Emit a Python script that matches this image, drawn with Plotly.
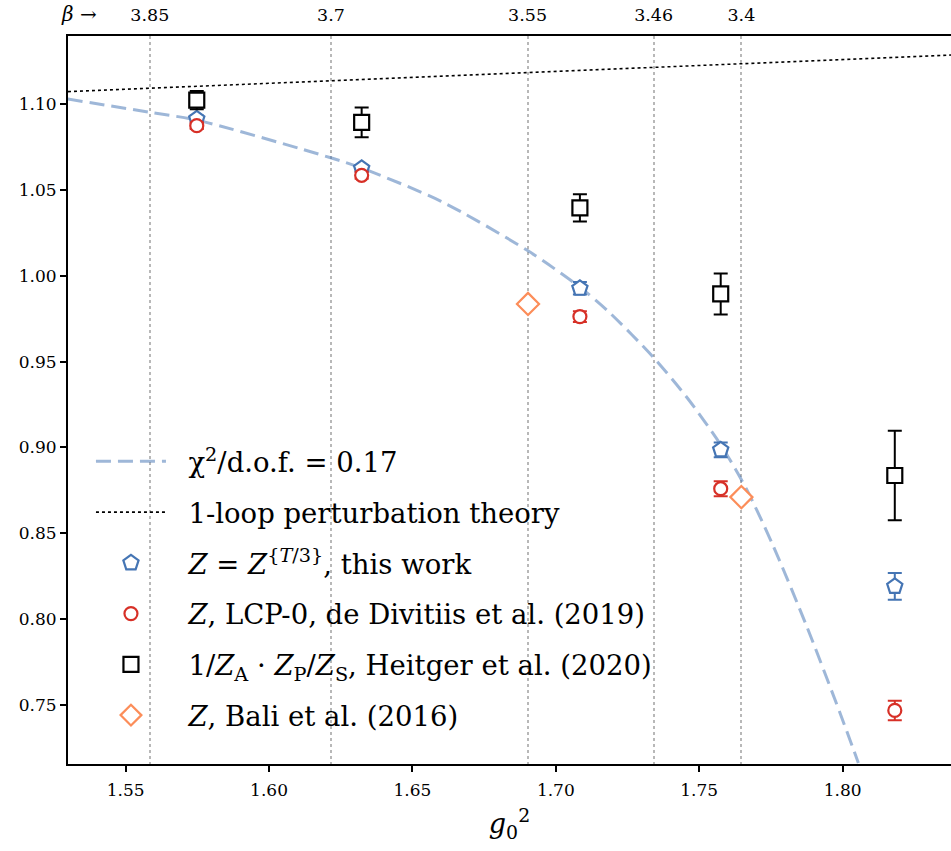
import plotly.graph_objects as go

# lattice couplings of the ensembles (g0^2 = 6/beta)
g2_ens = [1.5748, 1.6323, 1.7084, 1.7575, 1.8182]

# Z = Z^{T/3}, this work
z_this = [1.0913, 1.0625, 0.9927, 0.8986, 0.8191]
dz_this = [0.0020, 0.0020, 0.0036, 0.0043, 0.0078]

# LCP-0, de Divitiis et al. (2019)
z_lcp0 = [1.0874, 1.0585, 0.9762, 0.8760, 0.7469]
dz_lcp0 = [0.0020, 0.0020, 0.0032, 0.0044, 0.0057]

# 1/Z_A * Z_P/Z_S, Heitger et al. (2020)
z_heit = [1.1023, 1.0893, 1.0395, 0.9894, 0.8837]
dz_heit = [0.0053, 0.0086, 0.0079, 0.0119, 0.0260]

# Bali et al. (2016)
g2_bali = [1.6903, 1.7647]
z_bali = [0.9836, 0.8711]
dz_bali = [0.0020, 0.0020]

# global fit curve (chi^2/d.o.f. = 0.17)
fit_g2 = [1.5298, 1.5583, 1.5751, 1.6215, 1.6320, 1.6600, 1.6903, 1.7084,
          1.7182, 1.7339, 1.7460, 1.7579, 1.7666, 1.7759, 1.7875, 1.7991, 1.8055]
fit_z = [1.1029, 1.0952, 1.0905, 1.0687, 1.0629, 1.0433, 1.0145, 0.9933,
         0.9794, 0.9527, 0.9285, 0.9005, 0.8754, 0.8423, 0.7958, 0.7454, 0.7163]

# 1-loop perturbation theory (straight line in g0^2)
pt_g2 = [1.5299, 1.8378]
pt_z = [1.1072, 1.1285]

# beta values shown on the upper axis
betas = [3.85, 3.7, 3.55, 3.46, 3.4]
beta_labels = ["3.85", "3.7", "3.55", "3.46", "3.4"]

XR = [1.5299, 1.8378]
YR = [0.7157, 1.1396]

BLUE = "#4575b4"
RED = "#d73027"
ORANGE = "#fc8d59"
FIT = "rgba(69,117,180,0.52)"
SERIF = "DejaVu Serif, Liberation Serif, serif"
PAD = "&nbsp;&nbsp;"

fig = go.Figure()

fig.add_trace(go.Scatter(
    x=fit_g2, y=fit_z, mode="lines",
    line=dict(color=FIT, width=3, dash="15px,7px", shape="spline", smoothing=0.8),
    name=PAD + "χ<sup>2</sup>/d.o.f. = 0.17", legendgroup="a"))

fig.add_trace(go.Scatter(
    x=pt_g2, y=pt_z, mode="lines", xaxis="x2", line=dict(color="black", width=1.6, dash="dot"),
    name=PAD + "1-loop perturbation theory", legendgroup="b"))


def data_trace(x, y, dy, color, symbol, size, name, group):
    return go.Scatter(
        x=x, y=y, mode="markers", name=PAD + name, legendgroup=group,
        error_y=dict(type="data", array=dy, visible=True, color=color, thickness=2, width=7),
        marker=dict(symbol=symbol, size=size, color="white", line=dict(color=color, width=2.2)))


fig.add_trace(data_trace(g2_ens, z_this, dz_this, BLUE, "pentagon", 16,
                         "<i>Z</i> = <i>Z</i><sup>{<i>T</i>/3}</sup>, this work", "c"))
fig.add_trace(data_trace(g2_ens, z_lcp0, dz_lcp0, RED, "circle", 13,
                         "<i>Z</i>, LCP-0, de Divitiis et al. (2019)", "d"))
fig.add_trace(data_trace(g2_ens, z_heit, dz_heit, "black", "square", 15,
                         "1/<i>Z</i><sub>A</sub> · <i>Z</i><sub>P</sub>/<i>Z</i><sub>S</sub>, Heitger et al. (2020)", "e"))
fig.add_trace(data_trace(g2_bali, z_bali, dz_bali, ORANGE, "diamond", 17,
                         "<i>Z</i>, Bali et al. (2016)", "f"))

fig.update_layout(
    width=951, height=851,
    margin=dict(l=68, r=0, t=36, b=87),
    paper_bgcolor="white", plot_bgcolor="white",
    font=dict(family=SERIF, color="black", size=16),
    showlegend=True,
    legend=dict(
        x=0.026, y=0.033, xanchor="left", yanchor="bottom",
        bgcolor="rgba(0,0,0,0)", font=dict(family=SERIF, size=27.5),
        itemwidth=70, tracegroupgap=12, traceorder="grouped"),
    xaxis=dict(
        range=XR, showgrid=False, zeroline=False,
        showline=True, linecolor="black", linewidth=2,
        ticks="outside", ticklen=6, tickwidth=1.5, tickcolor="black",
        tickvals=[1.55, 1.60, 1.65, 1.70, 1.75, 1.80],
        ticktext=["1.55", "1.60", "1.65", "1.70", "1.75", "1.80"],
        tickfont=dict(size=17), ticklabelstandoff=4,
        title=dict(text="<i>g</i><sub>0</sub><sup>2</sup>", font=dict(size=27), standoff=15)),
    xaxis2=dict(
        range=XR, overlaying="x", side="top", anchor="y",
        tickvals=[6.0 / b for b in betas], ticktext=beta_labels,
        ticks="", tickfont=dict(size=17.5), ticklabelstandoff=6,
        showgrid=True, griddash="dot", gridcolor="#b8b8b8", gridwidth=1.6,
        showline=True, linecolor="black", linewidth=2, zeroline=False),
    yaxis=dict(
        range=YR, showgrid=False, zeroline=False,
        showline=True, linecolor="black", linewidth=2,
        ticks="outside", ticklen=6, tickwidth=1.5, tickcolor="black",
        tickvals=[0.75, 0.80, 0.85, 0.90, 0.95, 1.00, 1.05, 1.10],
        ticktext=["0.75", "0.80", "0.85", "0.90", "0.95", "1.00", "1.05", "1.10"],
        tickfont=dict(size=17)),
)

fig.add_annotation(
    x=0.012, y=1, xref="paper", yref="paper", xanchor="center", yanchor="middle",
    yshift=22, showarrow=False, text="<i>β</i> →", font=dict(size=20))

fig.write_html("out.html")
